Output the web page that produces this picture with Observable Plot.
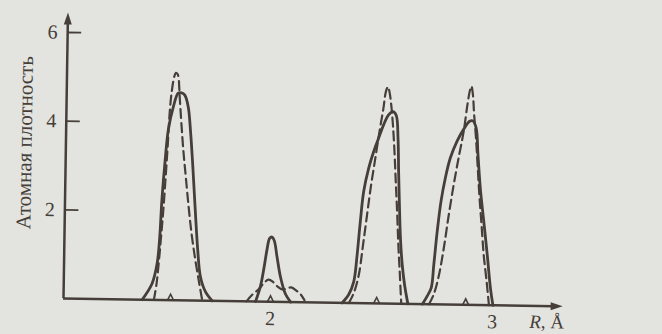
<!DOCTYPE html>
<html><head><meta charset="utf-8">
<script src="https://cdn.jsdelivr.net/npm/d3@7"></script>
<script src="https://cdn.jsdelivr.net/npm/@observablehq/plot@0.6"></script>
<style>
html,body{margin:0;padding:0;background:#e3e4e0;}
#chart svg{display:block;transform:rotate(0.9deg);transform-origin:63px 298px;}
</style></head><body><div id="chart"></div>
<script>
// Axis texts
const yLabel = "Атомная плотность";
const xLabel = "R, Å";
const xTicks = [2, 3];
const yTicks = [2, 4, 6];
const xDomain = [1.068, 3.315];
const yDomain = [0, 6.45];

// Solid curves, one array per peak: R (Å) and atomic density
const solidR = [
  [1.422,1.466,1.487,1.497,1.504,1.516,1.528,1.549,1.570,1.585,1.600,1.616,1.629,1.641,1.655,1.669,1.683,1.707,1.738],
  [1.933,1.954,1.970,1.981,1.992,2.003,2.013,2.027,2.044,2.067,2.091],
  [2.323,2.352,2.374,2.387,2.399,2.412,2.433,2.454,2.475,2.497,2.518,2.538,2.553,2.563,2.568,2.574,2.581,2.591,2.603,2.619],
  [2.684,2.706,2.723,2.733,2.746,2.761,2.779,2.800,2.829,2.857,2.884,2.899,2.914,2.924,2.937,2.955,2.973,2.990,3.002]
];
const solidD = [
  [0,0.37,0.82,1.42,2.25,3.16,3.84,4.36,4.67,4.68,4.63,4.37,3.77,3.02,2.04,1.14,0.54,0.20,0],
  [0,0.35,0.81,1.18,1.43,1.46,1.38,1.00,0.55,0.18,0],
  [0,0.19,0.49,1.09,1.84,2.52,3.05,3.42,3.72,4.03,4.25,4.33,4.25,3.72,2.97,2.22,1.47,0.87,0.42,0],
  [0,0.19,0.37,0.90,1.65,2.33,2.86,3.31,3.69,3.95,4.14,4.15,3.99,3.39,2.63,1.88,1.13,0.37,0]
];
// Dashed curves, one array per peak
const dashR = [
  [1.475,1.486,1.494,1.503,1.512,1.521,1.527,1.532,1.540,1.551,1.558,1.566,1.571,1.574,1.578,1.597,1.610,1.625,1.640,1.659,1.677,1.693],
  [1.892,1.919,1.945,1.968,1.990,2.012,2.030,2.053,2.075,2.093,2.116,2.135,2.153],
  [2.353,2.375,2.396,2.413,2.429,2.445,2.462,2.479,2.495,2.505,2.514,2.521,2.530,2.539,2.547,2.555,2.564,2.572,2.581,2.589],
  [2.714,2.735,2.756,2.777,2.797,2.817,2.837,2.858,2.873,2.884,2.890,2.897,2.904,2.914,2.923,2.933,2.945,2.957,2.972,2.984]
];
const dashD = [
  [0,0.37,0.82,1.43,2.10,2.93,3.54,4.14,4.67,5.04,5.13,5.10,5.01,4.82,4.52,3.39,2.79,2.11,1.51,0.91,0.42,0],
  [0,0.16,0.27,0.41,0.50,0.44,0.35,0.28,0.31,0.33,0.26,0.18,0.05],
  [0,0.23,0.64,1.32,2.00,2.67,3.27,3.88,4.40,4.78,4.89,4.78,4.48,4.03,3.50,2.82,2.07,1.32,0.64,0],
  [0,0.23,0.64,1.28,2.03,2.71,3.31,3.91,4.51,4.85,4.93,4.74,4.29,3.76,3.16,2.48,1.81,1.13,0.53,0]
];
// small marks on the R axis
const markerR = [1.550, 2.000, 2.478, 2.879];

const ink = "#463e38";
const font = "'Liberation Serif','Times New Roman',serif";

const toRows = (R, D) => R.flatMap((xs, i) => xs.map((x, j) => ({peak: i, x, y: D[i][j]})));
const solidRows = toRows(solidR, solidD);
const dashRows = toRows(dashR, dashD);

const arrowUp = {draw(c){ c.moveTo(0,-8); c.lineTo(4,4); c.lineTo(-4,4); c.closePath(); }};
const arrowRight = {draw(c){ c.moveTo(8,0); c.lineTo(-4,-4); c.lineTo(-4,4); c.closePath(); }};
const caret = {draw(c){ c.moveTo(-3,0); c.lineTo(0,-6); c.lineTo(3,0); }};

const x0 = xDomain[0];
const xArrow = 3.28;   // arrow head centre on R axis
const yArrow = 6.27;   // arrow head centre on density axis
const tickLen = 0.063; // inner tick length on the density axis

const chart = Plot.plot({
  width: 662, height: 334,
  marginLeft: 63, marginRight: 100, marginTop: 12, marginBottom: 36,
  style: {background: "transparent", fontFamily: font, fontSize: "20px", color: ink},
  x: {domain: xDomain, ticks: xTicks, tickSize: 0, tickPadding: 9, tickFormat: d => String(d), label: null},
  y: {domain: yDomain, ticks: yTicks, tickSize: 0, tickPadding: 10, tickFormat: d => String(d), label: null},
  marks: [
    Plot.ruleY([0], {x1: x0, x2: xArrow, stroke: ink, strokeWidth: 2.5}),
    Plot.ruleX([x0], {y1: 0, y2: yArrow, stroke: ink, strokeWidth: 2.5}),
    Plot.ruleY(yTicks, {x1: x0, x2: x0 + tickLen, stroke: ink, strokeWidth: 1.8}),
    Plot.line(solidRows, {x: "x", y: "y", z: "peak", curve: "catmull-rom", stroke: ink, strokeWidth: 2.8}),
    Plot.line(dashRows, {x: "x", y: "y", z: "peak", curve: "catmull-rom", stroke: ink, strokeWidth: 2.2, strokeDasharray: "9,5"}),
    Plot.dot(markerR, {x: d => d, y: 0, symbol: caret, fill: "none", stroke: ink, strokeWidth: 1.6}),
    Plot.dot([xArrow], {x: d => d, y: 0, symbol: arrowRight, fill: ink, stroke: "none"}),
    Plot.dot([yArrow], {x: x0, y: d => d, symbol: arrowUp, fill: ink, stroke: "none"}),
    Plot.text([xLabel], {x: xDomain[1], y: 0, dy: 16, dx: 2, text: d => d, textAnchor: "end", lineAnchor: "middle", fontSize: 19, fill: ink}),
    Plot.text([yLabel], {x: x0, y: 3.5, dx: -41, text: d => d, rotate: -90, textAnchor: "middle", lineAnchor: "middle", fontSize: 21, fill: ink})
  ]
});
document.getElementById("chart").appendChild(chart);

// italic R in the axis label
chart.querySelectorAll("text").forEach(t => {
  if (t.textContent === xLabel) {
    t.textContent = "";
    const ns = "http://www.w3.org/2000/svg";
    const a = document.createElementNS(ns, "tspan");
    a.setAttribute("font-style", "italic");
    a.textContent = "R";
    const b = document.createElementNS(ns, "tspan");
    b.textContent = ", Å";
    t.appendChild(a); t.appendChild(b);
  }
});
</script></body></html>
